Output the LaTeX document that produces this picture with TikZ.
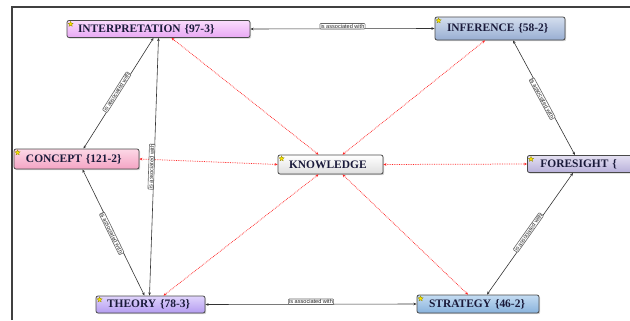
\documentclass[tikz,border=0pt]{standalone}
\usepackage{fontspec}
\setmainfont{Liberation Serif}
\setsansfont{Liberation Sans}
\usetikzlibrary{shapes.geometric,shadows,arrows.meta}

\definecolor{navy}{HTML}{1A1A3A}
\definecolor{rimgray}{HTML}{4A4A4A}
\definecolor{interpA}{HTML}{FADCFC}
\definecolor{interpB}{HTML}{E8A8F4}
\definecolor{inferA}{HTML}{D4DEEE}
\definecolor{inferB}{HTML}{98AED2}
\definecolor{conceptA}{HTML}{FCD8E6}
\definecolor{conceptB}{HTML}{F4A4C4}
\definecolor{foreA}{HTML}{E4E0F2}
\definecolor{foreB}{HTML}{B8B0DA}
\definecolor{theoryA}{HTML}{E0D4FC}
\definecolor{theoryB}{HTML}{B49CF0}
\definecolor{stratA}{HTML}{C4DCF2}
\definecolor{stratB}{HTML}{88B2DC}

\begin{document}
\begin{tikzpicture}[x=1bp,y=1bp,
  concept/.style={draw=rimgray, line width=0.8bp, rounded corners=2bp,
    inner xsep=0pt, inner ysep=0pt, align=left,
    font=\bfseries\fontsize{11.5}{12}\selectfont, text=navy,
    drop shadow={shadow xshift=1.2bp, shadow yshift=-1.2bp, opacity=0.35}},
  icon/.style={star, star points=5, star point ratio=2.3, fill=yellow!90!orange,
    draw=olive, line width=0.3bp, inner sep=0pt, minimum size=5.5bp},
  assoc/.style={draw=black!80, line width=0.6bp,
    {Stealth[length=3.2bp,width=2.6bp]}-{Stealth[length=3.2bp,width=2.6bp]}},
  link/.style={draw=red!85, densely dotted, line width=0.75bp,
    {Stealth[length=3bp,width=2.6bp]}-{Stealth[length=3bp,width=2.6bp]}},
  lab/.style={draw=black!60, fill=white, rounded corners=0.8bp, inner sep=0.7bp,
    font=\sffamily\fontsize{5.6}{6}\selectfont, text=black!85}]

\useasboundingbox (0,0) rectangle (630,320);

% frame
\draw[line width=1.8bp, black!75] (12,0) -- (12,313) -- (630,313);

% concepts (text set after the corner icon)
\node[concept, text width=183bp, minimum height=17bp, top color=interpA, bottom color=interpB]
  (interp) at (158.5,291) {\hspace*{11bp}INTERPRETATION \{97-3\}};
\node[concept, text width=130bp, minimum height=23bp, top color=inferA, bottom color=inferB]
  (infer) at (500,291.5) {\hspace*{12bp}INFERENCE \{58-2\}};
\node[concept, text width=125bp, minimum height=20bp, top color=conceptA, bottom color=conceptB]
  (concept) at (76.5,161) {\hspace*{12bp}CONCEPT \{121-2\}};
\node[concept, text width=105bp, minimum height=19bp, top color=white, bottom color=black!13]
  (knowledge) at (330.5,155.5) {\hspace*{11bp}KNOWLEDGE};
\node[concept, anchor=west, text width=140bp, minimum height=17bp, top color=foreA, bottom color=foreB]
  (foresight) at (527,156) {\hspace*{13bp}FORESIGHT \{};
\node[concept, text width=109bp, minimum height=17bp, top color=theoryA, bottom color=theoryB]
  (theory) at (150.5,15.5) {\hspace*{11bp}THEORY \{78-3\}};
\node[concept, text width=122bp, minimum height=18bp, top color=stratA, bottom color=stratB]
  (strategy) at (478,16) {\hspace*{12bp}STRATEGY \{46-2\}};

% corner icons
\node[icon] (interp-icon) at ([xshift=4bp,yshift=-4bp]interp.north west) {};
\node[icon] (infer-icon) at ([xshift=4bp,yshift=-4bp]infer.north west) {};
\node[icon] (concept-icon) at ([xshift=4bp,yshift=-4bp]concept.north west) {};
\node[icon] (knowledge-icon) at ([xshift=4bp,yshift=-4bp]knowledge.north west) {};
\node[icon] (foresight-icon) at ([xshift=4bp,yshift=-4bp]foresight.north west) {};
\node[icon] (theory-icon) at ([xshift=4bp,yshift=-4bp]theory.north west) {};
\node[icon] (strategy-icon) at ([xshift=4bp,yshift=-4bp]strategy.north west) {};

% links to KNOWLEDGE
\draw[link] ([xshift=13bp]interp.south) -- ([xshift=-12bp]knowledge.north);
\draw[link] ([xshift=-15bp]infer.south) -- ([xshift=12bp]knowledge.north);
\draw[link] (concept.east) -- (knowledge.west);
\draw[link] (knowledge.east) -- (foresight.west);
\draw[link] ([xshift=13bp]theory.north) -- ([xshift=-12bp]knowledge.south);
\draw[link] ([xshift=-10bp]strategy.north) -- ([xshift=12bp]knowledge.south);

% associations
\draw[assoc] (interp.east) -- node[lab, above, yshift=-0.5bp] {is associated with} (infer.west);
\draw[assoc] (theory.east) -- node[lab, above, yshift=-0.5bp] {is associated with} (strategy.west);
\draw[assoc] ([xshift=7bp]concept.north) -- node[lab, sloped, above=-1bp] {is associated with} ([xshift=-5bp]interp.south);
\draw[assoc] ([xshift=-1bp]theory.north) -- node[lab, sloped, above=-0.5bp] {is associated with} (interp.south);
\draw[assoc] ([xshift=-6bp]theory.north) -- node[lab, sloped, below=-1bp] {is associated with} ([xshift=6bp]concept.south);
\draw[assoc] ([xshift=13bp]infer.south) -- node[lab, sloped, below=-1bp] {is associated with} ([xshift=48bp]foresight.north west);
\draw[assoc] ([xshift=9bp]strategy.north) -- node[lab, sloped, above=-1bp] {is associated with} ([xshift=46bp]foresight.south west);

\end{tikzpicture}
\end{document}
